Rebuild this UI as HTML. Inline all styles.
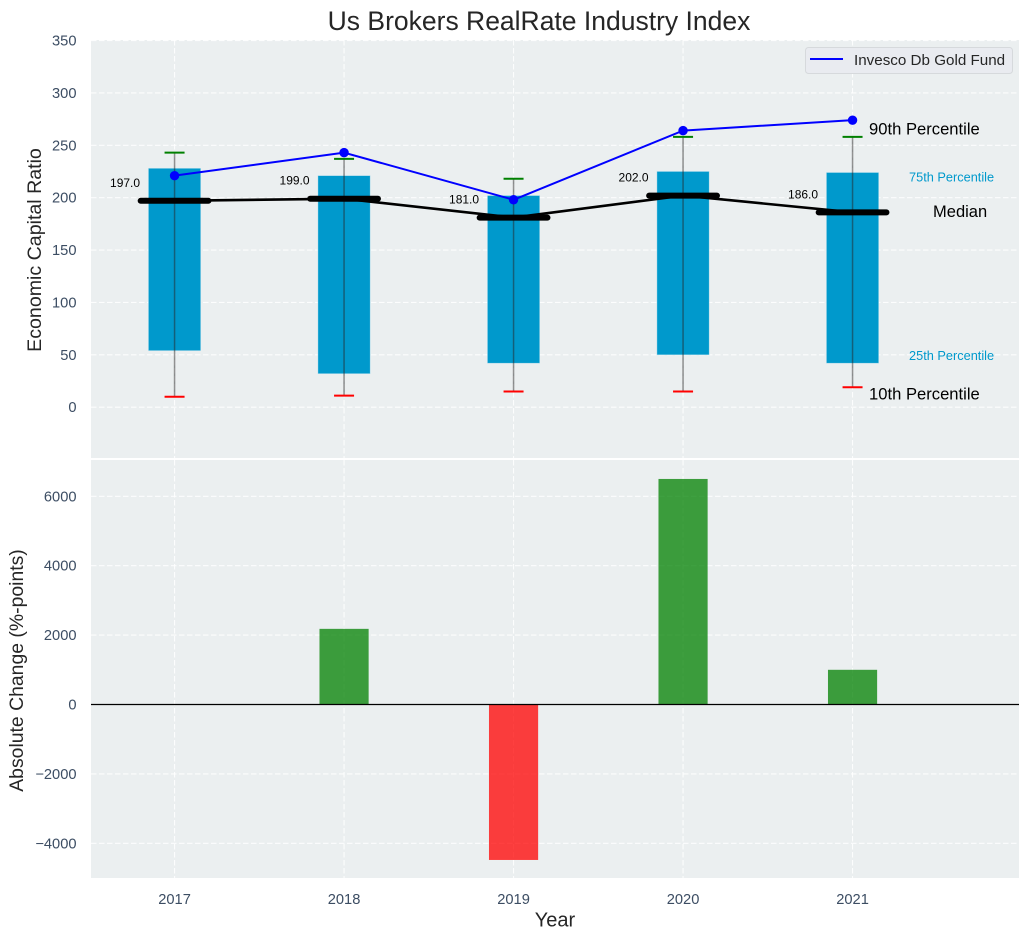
<!DOCTYPE html>
<html lang="en">
<head>
<meta charset="utf-8">
<title>Us Brokers RealRate Industry Index</title>
<style>
  html, body { margin: 0; padding: 0; background: #ffffff; width: 1029px; height: 940px; overflow: hidden; }
  svg { display: block; font-family: "Liberation Sans", Arial, sans-serif; }
</style>
</head>
<body>
<svg id="chart" xmlns="http://www.w3.org/2000/svg" width="1029" height="940" viewBox="0 0 1029 940"></svg>
<script>
const years = [2017, 2018, 2019, 2020, 2021];
const p90 = [243, 237, 218, 258, 258];
const p75 = [228, 221, 202, 225, 224];
const median = [197, 199, 181, 202, 186];
const p25 = [54, 32, 42, 50, 42];
const p10 = [10, 11, 15, 15, 19];
const fund = [221, 243, 198, 264, 274];
const change = [0, 2180, -4480, 6500, 1000];
const topTicks = [0, 50, 100, 150, 200, 250, 300, 350];
const bottomTicks = [-4000, -2000, 0, 2000, 4000, 6000];

const svg = document.getElementById('chart');
const NS = 'http://www.w3.org/2000/svg';
const L = 91, R = 1019, T1 = 40, B1 = 458, T2 = 460, B2 = 878;
const xMin = 2016.507, xMax = 2021.982;
const y1Min = -48.5, y1Max = 350.5;
const y2Min = -5000, y2Max = 7046;
function X(v) { return L + (v - xMin) / (xMax - xMin) * (R - L); }
function Y1(v) { return B1 - (v - y1Min) / (y1Max - y1Min) * (B1 - T1); }
function Y2(v) { return B2 - (v - y2Min) / (y2Max - y2Min) * (B2 - T2); }
function mk(tag, attrs, text) {
  const el = document.createElementNS(NS, tag);
  for (const k in attrs) el.setAttribute(k, attrs[k]);
  if (text !== undefined) el.textContent = text;
  svg.appendChild(el);
  return el;
}
function fmtTick(v) { return v < 0 ? '\u2212' + Math.abs(v) : String(v); }
const TICK = '#3c4d63', INK = '#262626';
const GRID = { stroke: '#ffffff', 'stroke-width': 1.1, 'stroke-dasharray': '5.5 2.5', 'stroke-opacity': 0.85 };

let el;
el = mk('rect', { x: L, y: T1, width: R - L, height: B1 - T1, fill: '#ebeff0' });


el = mk('rect', { x: L, y: T2, width: R - L, height: B2 - T2, fill: '#ebeff0' });



topTicks.forEach(function (t) {
  const g = mk('line', Object.assign({ x1: L, x2: R, y1: Y1(t), y2: Y1(t) }, GRID));
  
  
  const lab = mk('text', { x: 76.5, y: Y1(t) + 5, 'text-anchor': 'end', 'font-size': 14.67, fill: TICK }, fmtTick(t));
  
  
});
bottomTicks.forEach(function (t) {
  const g = mk('line', Object.assign({ x1: L, x2: R, y1: Y2(t), y2: Y2(t) }, GRID));
  
  
  const lab = mk('text', { x: 76.5, y: Y2(t) + 5, 'text-anchor': 'end', 'font-size': 14.67, fill: TICK }, fmtTick(t));
  
  
});
years.forEach(function (yr) {
  const a = mk('line', Object.assign({ x1: X(yr), x2: X(yr), y1: T1, y2: B1 }, GRID));
  
  
  const b = mk('line', Object.assign({ x1: X(yr), x2: X(yr), y1: T2, y2: B2 }, GRID));
  
  
  const lab = mk('text', { x: X(yr), y: 904, 'text-anchor': 'middle', 'font-size': 14.67, fill: TICK }, String(yr));
  
  
});

const boxW = 0.308, capW = 0.059, medW = 0.2;
years.forEach(function (yr, i) {
  const box = mk('rect', {
    x: X(yr - boxW / 2), width: X(yr + boxW / 2) - X(yr - boxW / 2),
    y: Y1(p75[i]), height: Y1(p25[i]) - Y1(p75[i]),
    fill: '#0099cc', stroke: '#b8e0ee', 'stroke-width': 0.6, 'stroke-opacity': 0.7
  });
  
  
  const whisk = mk('line', { x1: X(yr), x2: X(yr), y1: Y1(p90[i]), y2: Y1(p10[i]), stroke: '#262626', 'stroke-width': 1.5, 'stroke-opacity': 0.5 });
  
  
  const hi = mk('line', { x1: X(yr - capW), x2: X(yr + capW), y1: Y1(p90[i]), y2: Y1(p90[i]), stroke: '#008000', 'stroke-width': 2 });
  
  
  const lo = mk('line', { x1: X(yr - capW), x2: X(yr + capW), y1: Y1(p10[i]), y2: Y1(p10[i]), stroke: '#ff0000', 'stroke-width': 2 });
  
  
});

el = mk('polyline', { points: years.map(function (yr, i) { return X(yr) + ',' + Y1(median[i]); }).join(' '), fill: 'none', stroke: '#000000', 'stroke-width': 2.6 });



years.forEach(function (yr, i) {
  const m = mk('line', { x1: X(yr - medW), x2: X(yr + medW), y1: Y1(median[i]), y2: Y1(median[i]), stroke: '#000000', 'stroke-width': 6, 'stroke-linecap': 'round' });
  
  
  const v = mk('text', { x: X(yr) - 49.5, y: Y1(median[i]) - 14, 'text-anchor': 'middle', 'font-size': 12, fill: '#000000' }, median[i].toFixed(1));
  
  
});

el = mk('polyline', { points: years.map(function (yr, i) { return X(yr) + ',' + Y1(fund[i]); }).join(' '), fill: 'none', stroke: '#0000ff', 'stroke-width': 2 });


years.forEach(function (yr, i) {
  const c = mk('circle', { cx: X(yr), cy: Y1(fund[i]), r: 4.7, fill: '#0000ff' });
  
  
});

const lastI = years.length - 1, lastX = X(years[lastI]);
el = mk('text', { x: lastX + 16.5, y: Y1(p90[lastI]) - 2.5, 'font-size': 16.6, fill: '#000000' }, '90th Percentile');


el = mk('text', { x: lastX + 16.5, y: Y1(p10[lastI]) + 12.3, 'font-size': 16.6, fill: '#000000' }, '10th Percentile');


el = mk('text', { x: lastX + 56.5, y: Y1(p75[lastI]) + 9.2, 'font-size': 12.75, fill: '#0099cc' }, '75th Percentile');


el = mk('text', { x: lastX + 56.5, y: Y1(p25[lastI]) - 3.3, 'font-size': 12.75, fill: '#0099cc' }, '25th Percentile');


el = mk('text', { x: lastX + 80.5, y: Y1(median[lastI]) + 4.5, 'font-size': 16.5, fill: '#000000' }, 'Median');



const barW = 0.29;
years.forEach(function (yr, i) {
  const v = change[i];
  const top = Math.min(Y2(v), Y2(0)), h = Math.abs(Y2(v) - Y2(0));
  const b = mk('rect', {
    x: X(yr - barW / 2), width: X(yr + barW / 2) - X(yr - barW / 2), y: top, height: h,
    fill: v >= 0 ? '#008000' : '#ff0000', 'fill-opacity': 0.75
  });
  
  
});
el = mk('line', { x1: L, x2: R, y1: Y2(0), y2: Y2(0), stroke: '#000000', 'stroke-width': 1.2 });



el = mk('rect', { x: 805.5, y: 47.5, width: 207, height: 26, rx: 3, fill: '#e9ebf0', stroke: '#d6d9dc', 'stroke-width': 1 });


el = mk('line', { x1: 810, x2: 843, y1: 59, y2: 59, stroke: '#0000ff', 'stroke-width': 2 });


el = mk('text', { x: 854, y: 65, 'font-size': 15.2, fill: INK }, 'Invesco Db Gold Fund');



el = mk('text', { x: 539, y: 30, 'text-anchor': 'middle', 'font-size': 26.5, fill: INK }, 'Us Brokers RealRate Industry Index');


el = mk('text', { x: 555, y: 926.5, 'text-anchor': 'middle', 'font-size': 20, fill: INK }, 'Year');


el = mk('text', { transform: 'translate(41 250) rotate(-90)', 'text-anchor': 'middle', 'font-size': 19.6, fill: INK }, 'Economic Capital Ratio');


el = mk('text', { transform: 'translate(23 670.5) rotate(-90)', 'text-anchor': 'middle', 'font-size': 19.4, fill: INK }, 'Absolute Change (%-points)');


</script>
</body>
</html>
